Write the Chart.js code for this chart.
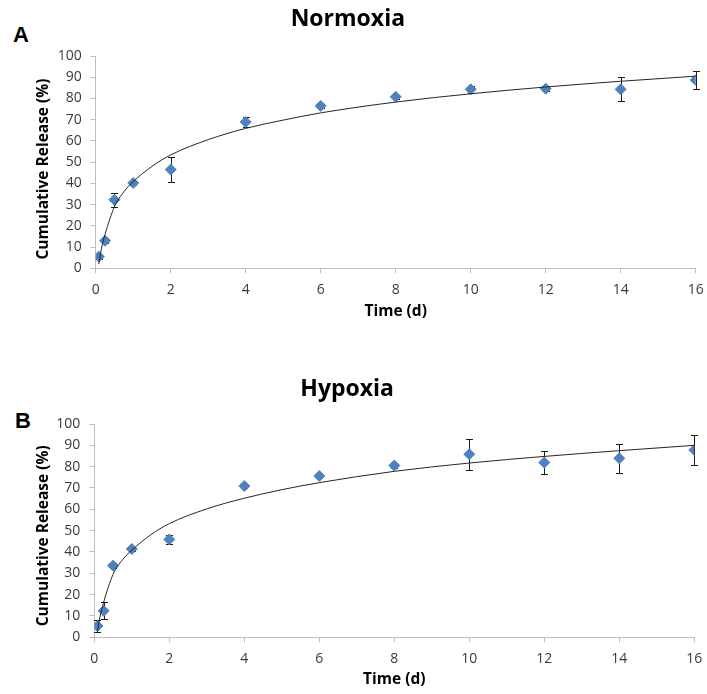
<!DOCTYPE html>
<html>
<head>
<meta charset="utf-8">
<script src="https://cdn.jsdelivr.net/npm/chart.js@4/dist/chart.umd.min.js"></script>
<style>
  html, body { margin: 0; padding: 0; background: #fff; }
  body { width: 707px; height: 694px; position: relative; overflow: hidden; }
  canvas { position: absolute; left: 0; }
  .panel { position: absolute; font-family: "Liberation Sans", Arial, sans-serif; font-weight: bold; font-size: 22px; line-height: 22px; color: #000; }
</style>
</head>
<body>
<div class="panel" style="left:13px; top:24px;">A</div>
<div class="panel" style="left:15px; top:410px;">B</div>
<canvas id="c1" width="707" height="347" style="top:0"></canvas>
<canvas id="c2" width="707" height="347" style="top:347px"></canvas>
<script>
// ---- data ----
const timeDays = [0.083, 0.25, 0.5, 1, 2, 4, 6, 8, 10, 12, 14, 16];

const normoxiaRelease = [5.5, 13.0, 32.3, 40.2, 46.5, 68.9, 76.5, 80.8, 84.3, 84.6, 84.3, 88.7];
const normoxiaError   = [1.0, 1.2, 3.3, 1.0, 6.0, 2.3, 1.0, 1.0, 1.5, 1.0, 5.7, 4.3];

const hypoxiaRelease  = [5.3, 12.4, 33.6, 41.4, 45.9, 70.9, 75.6, 80.5, 85.8, 81.9, 83.9, 87.8];
const hypoxiaError    = [3.0, 4.0, 1.0, 1.0, 2.2, 1.0, 1.0, 1.0, 7.2, 5.4, 6.8, 7.0];

// trendline (logarithmic fit curve)
const fitTime     = [0.083, 0.15, 0.25, 0.5, 0.75, 1, 1.5, 2, 3, 4, 5, 6, 8, 10, 12, 14, 16];
const normoxiaFit = [2.0, 9.0, 16.0, 29.0, 36.0, 40.8, 48.0, 53.4, 60.6, 65.9, 69.8, 73.2, 78.3, 82.2, 85.4, 88.1, 90.5];
const hypoxiaFit  = [2.5, 9.5, 16.5, 29.5, 36.3, 40.8, 48.0, 53.3, 60.2, 65.2, 69.2, 72.5, 77.8, 81.7, 84.8, 87.5, 90.0];

const xTickStep = 2, xMax = 16;
const yTickStep = 10, yMax = 100;

const titles = ['Normoxia', 'Hypoxia'];
const xTitle = 'Time (d)';
const yTitle = 'Cumulative Release (%)';

// ---- drawing ----
const FONT = '"Open Sans", "DejaVu Sans", sans-serif';
const AXIS_COLOR = '#bfbfbf';
const TICK_COLOR = '#3a3a3a';
const MARKER = '#4f81bd';

const errorBarPlugin = {
  id: 'errorBars',
  beforeDatasetsDraw(chart, args, opts) {
    const ctx = chart.ctx;
    const xs = chart.scales.x, ys = chart.scales.y;
    const ds = chart.data.datasets[1];
    ctx.save();
    ctx.strokeStyle = '#1a1a1a';
    ctx.lineWidth = 1;
    ds.data.forEach((p, i) => {
      const e = opts.errors[i];
      const x = Math.round(xs.getPixelForValue(p.x)) + 0.5;
      const yT = Math.round(ys.getPixelForValue(p.y + e)) + 0.5;
      const yB = Math.round(ys.getPixelForValue(p.y - e)) + 0.5;
      ctx.beginPath();
      ctx.moveTo(x, yT); ctx.lineTo(x, yB);
      ctx.moveTo(x - 3.5, yT); ctx.lineTo(x + 3.5, yT);
      ctx.moveTo(x - 3.5, yB); ctx.lineTo(x + 3.5, yB);
      ctx.stroke();
    });
    ctx.restore();
  }
};

// y-axis title placed like the original (slightly below the plot-area centre)
const yTitlePlugin = {
  id: 'yTitle',
  afterDraw(chart, args, opts) {
    const ctx = chart.ctx;
    ctx.save();
    ctx.translate(opts.x, opts.y);
    ctx.rotate(-Math.PI / 2);
    ctx.font = 'bold 15.5px ' + FONT;
    ctx.fillStyle = '#000';
    ctx.textAlign = 'center';
    ctx.textBaseline = 'middle';
    ctx.fillText(opts.text, 0, 0);
    ctx.restore();
  }
};

function makeChart(canvasId, title, values, errors, fit, geo) {
  const pts = timeDays.map((t, i) => ({ x: t, y: values[i] }));
  const fitPts = fitTime.map((t, i) => ({ x: t, y: fit[i] }));
  return new Chart(document.getElementById(canvasId), {
    type: 'scatter',
    data: {
      datasets: [
        {
          type: 'line',
          data: fitPts,
          showLine: true,
          borderColor: '#262626',
          borderWidth: 1,
          pointRadius: 0,
          fill: false,
          cubicInterpolationMode: 'monotone'
        },
        {
          data: pts,
          pointStyle: 'rectRot',
          pointRadius: 5.5,
          pointBackgroundColor: MARKER,
          pointBorderColor: MARKER,
          pointBorderWidth: 1
        }
      ]
    },
    options: {
      responsive: false,
      animation: false,
      devicePixelRatio: 1,
      layout: { padding: { left: 0, right: geo.padRight, top: 0, bottom: 0 } },
      plugins: {
        legend: { display: false },
        tooltip: { enabled: false },
        title: {
          display: true,
          text: title,
          color: '#000',
          font: { family: FONT, size: 23, weight: 'bold' },
          padding: { top: geo.titleTop, bottom: geo.titleBottom }
        },
        errorBars: { errors: errors },
        yTitle: { text: yTitle, x: 44, y: geo.yTitleY }
      },
      scales: {
        x: {
          type: 'linear',
          min: 0, max: xMax,
          afterFit: s => { s.height = geo.xHeight; s.paddingRight = 6; s.paddingLeft = 0; },
          ticks: { stepSize: xTickStep, color: TICK_COLOR, font: { family: FONT, size: 14 }, padding: 8, maxRotation: 0 },
          grid: { drawOnChartArea: false, drawTicks: true, tickLength: 5, color: AXIS_COLOR },
          border: { display: true, color: AXIS_COLOR, width: 1 },
          title: { display: true, text: xTitle, color: '#000', font: { family: FONT, size: 15.5, weight: 'bold' }, padding: { top: 0, bottom: geo.xTitleBottom } }
        },
        y: {
          type: 'linear',
          min: 0, max: yMax,
          afterFit: s => { s.width = geo.yWidth; },
          ticks: { stepSize: yTickStep, color: TICK_COLOR, font: { family: FONT, size: 14 }, padding: 9 },
          grid: { drawOnChartArea: false, drawTicks: true, tickLength: 5, color: AXIS_COLOR },
          border: { display: true, color: AXIS_COLOR, width: 1 },
          title: { display: false }
        }
      }
    },
    plugins: [errorBarPlugin, yTitlePlugin]
  });
}

makeChart('c1', titles[0], normoxiaRelease, normoxiaError, normoxiaFit,
  { padRight: 11.3, titleTop: 6, titleBottom: 22.4, xHeight: 78.7, xTitleBottom: 26, yWidth: 95.7, yTitleY: 169 });
makeChart('c2', titles[1], hypoxiaRelease, hypoxiaError, hypoxiaFit,
  { padRight: 12.7, titleTop: 28.2, titleBottom: 21.2, xHeight: 56.7, xTitleBottom: 5.4, yWidth: 94.3, yTitleY: 188.8 });
</script>
</body>
</html>
